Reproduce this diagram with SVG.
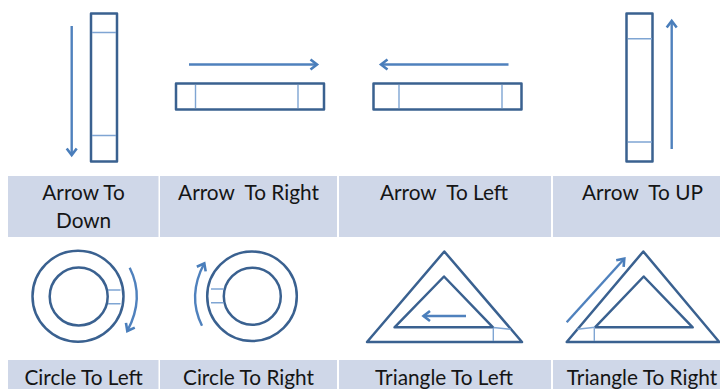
<svg xmlns="http://www.w3.org/2000/svg" width="720" height="389" viewBox="0 0 720 389">
<style>
.cell{fill:#cfd7e8}
.lbl{font-family:"Lato","Liberation Sans",sans-serif;font-size:20.8px;fill:#151515;text-anchor:middle;white-space:pre}
.shape{fill:#fff;stroke:#3a6190;stroke-width:2.5;stroke-linejoin:round}
.tick{fill:none;stroke:#7fa5d3;stroke-width:1.4}
.arrow{fill:none;stroke:#4f81bd;stroke-width:2.4;marker-end:url(#head)}
</style>
<defs>
<marker id="head" markerUnits="userSpaceOnUse" markerWidth="16" markerHeight="16" refX="10" refY="8" orient="auto">
<path d="M3.5 3L10 8L3.5 13" fill="none" stroke="#4a7ebb" stroke-width="2.6"/>
</marker>
</defs>
<rect width="720" height="389" fill="#fff"/>
<g id="arrow-down">
<rect class="cell" x="8" y="176" width="150.5" height="61"/>
<rect class="shape" x="91" y="13.5" width="26" height="148"/>
<path class="tick" d="M92 32.5H116M92 135.5H116"/>
<text class="lbl" x="83.6" y="200">Arrow To</text>
<text class="lbl" x="83.6" y="227.5">Down</text>
</g>
<g id="arrow-right">
<rect class="cell" x="160" y="176" width="177" height="61"/>
<rect class="shape" x="176" y="83.5" width="148" height="26"/>
<path class="tick" d="M195.5 85V108M298 85V108"/>
<text class="lbl" x="248.5" y="200">Arrow  To Right</text>
</g>
<g id="arrow-left">
<rect class="cell" x="339" y="176" width="212" height="61"/>
<rect class="shape" x="373.5" y="83.5" width="148" height="26"/>
<path class="tick" d="M399 85V108M502 85V108"/>
<text class="lbl" x="444" y="200">Arrow  To Left</text>
</g>
<g id="arrow-up">
<rect class="cell" x="553" y="176" width="167" height="61"/>
<rect class="shape" x="626.5" y="13.5" width="26" height="148"/>
<path class="tick" d="M628 38.7H652M628 142H652"/>
<text class="lbl" x="642.5" y="200">Arrow  To UP</text>
</g>
<g id="circle-left">
<rect class="cell" x="8" y="360" width="150.5" height="29"/>
<circle class="shape" cx="78" cy="296.3" r="45.5"/>
<circle class="shape" cx="78.7" cy="296.5" r="29"/>
<path class="tick" d="M108 290H120.5M108 303.7H120.5"/>
<text class="lbl" x="83.6" y="384.5">Circle To Left</text>
</g>
<g id="circle-right">
<rect class="cell" x="160" y="360" width="177" height="29"/>
<circle class="shape" cx="252" cy="296.3" r="44.8"/>
<circle class="shape" cx="252.3" cy="296.2" r="28.5"/>
<path class="tick" d="M211 289H223.5M211 302.7H223.5"/>
<text class="lbl" x="248.5" y="384.5">Circle To Right</text>
</g>
<g id="triangle-left">
<rect class="cell" x="339" y="360" width="212" height="29"/>
<path class="shape" d="M444.3 251.5L522 342H367Z"/>
<path class="shape" d="M444 276.5L493 327.3H394.5Z"/>
<path class="tick" d="M493.3 328V341M493.5 327.5L510.7 329.3"/>
<text class="lbl" x="444" y="384.5">Triangle To Left</text>
</g>
<g id="triangle-right">
<rect class="cell" x="553" y="360" width="167" height="29"/>
<path class="shape" d="M643.3 251.5L719.3 342H566.7Z"/>
<path class="shape" d="M643.7 276.5L692.7 327.3H595Z"/>
<path class="tick" d="M594.3 328V341M595 327.3L577.3 329.3"/>
<text class="lbl" x="642" y="384.5">Triangle To Right</text>
</g>
<g id="connectors">
<path class="arrow" d="M71.7 26V155"/>
<path class="arrow" d="M189 64.5H317"/>
<path class="arrow" d="M508.5 64.5H381"/>
<path class="arrow" d="M671.7 149V21"/>
<path class="arrow" d="M129.7 267.7Q145 298 127.3 331"/>
<path class="arrow" d="M202 325.7Q187 296 204.3 263.3"/>
<path class="arrow" d="M466 316H423.5"/>
<path class="arrow" d="M566.7 322.3L624.3 258.7"/>
</g>
</svg>
